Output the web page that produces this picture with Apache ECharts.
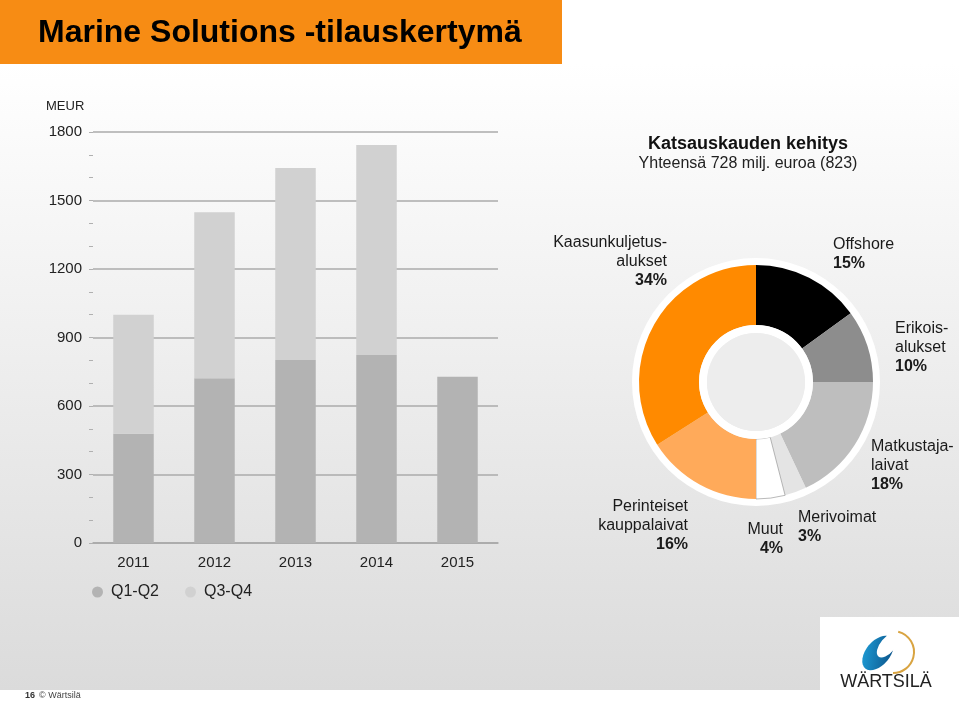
<!DOCTYPE html>
<html>
<head>
<meta charset="utf-8">
<script src="https://cdn.jsdelivr.net/npm/echarts@6/dist/echarts.min.js"></script>
<style>
html,body{margin:0;padding:0;background:#fff;}
#c{width:959px;height:701px;}
</style>
</head>
<body>
<div id="c"></div>
<script>
// ---- data ----
const years = ['2011', '2012', '2013', '2014', '2015'];
const q1q2 = [478, 722, 802, 823, 728];
const q3q4 = [522, 727, 840, 920, null];
const seriesNames = ['Q1-Q2', 'Q3-Q4'];
const yMin = 0, yMax = 1800, yStep = 300;

const segNames = ['Offshore', 'Erikois-\nalukset', 'Matkustaja-\nlaivat', 'Merivoimat', 'Muut', 'Perinteiset\nkauppalaivat', 'Kaasunkuljetus-\nalukset'];
const segShares = [15, 10, 18, 3, 4, 16, 34];

const titleText = 'Marine Solutions -tilauskertymä';
const pieTitle = 'Katsauskauden kehitys';
const pieSubtitle = 'Yhteensä 728 milj. euroa (823)';
const unitText = 'MEUR';

// ---- styles ----
const FONT = '"Liberation Sans", Arial, Helvetica, sans-serif';
const segColors = ['#000000', '#8D8D8D', '#BEBEBE', '#E4E4E4', '#FFFFFF', '#FFAA5A', '#FF8A00'];
const PIE_C = [756, 382];
// label anchors: [x, top, align]
const labelPos = [
  [833, 235, 'left'],
  [895, 319, 'left'],
  [871, 437, 'left'],
  [798, 508, 'left'],
  [783, 520, 'right'],
  [688, 497, 'right'],
  [667, 233, 'right']
];

const chart = echarts.init(document.getElementById('c'), null, {renderer: 'canvas'});

const labelGraphics = segNames.map((n, i) => {
  const lines = n.split('\n').map(s => '{n|' + s + '}').join('\n');
  return {
    type: 'text', x: labelPos[i][0], y: labelPos[i][1], z: 10,
    style: {
      text: lines + '\n{p|' + segShares[i] + '%}',
      align: labelPos[i][2], verticalAlign: 'top',
      rich: {
        n: {fontFamily: FONT, fontSize: 16, lineHeight: 19, fill: '#1a1a1a', align: labelPos[i][2]},
        p: {fontFamily: FONT, fontSize: 16, lineHeight: 19, fontWeight: 'bold', fill: '#1a1a1a', align: labelPos[i][2]}
      }
    }
  };
});

const option = {
  animation: false,
  textStyle: {fontFamily: FONT},
  graphic: [
    {type: 'rect', z: -10, shape: {x: 0, y: 64, width: 959, height: 626},
     style: {fill: new echarts.graphic.LinearGradient(0, 0, 0, 1, [
       {offset: 0, color: '#FFFFFF'}, {offset: 1, color: '#DBDBDB'}])}},
    {type: 'rect', z: -9, shape: {x: 0, y: 0, width: 562, height: 64}, style: {fill: '#F78C14'}},
    {type: 'text', x: 38, y: 33, z: 10, style: {text: titleText, font: 'bold 32px ' + FONT, fill: '#000', verticalAlign: 'middle'}},
    {type: 'text', x: 46, y: 106, z: 10, style: {text: unitText, font: '13px ' + FONT, fill: '#222', verticalAlign: 'middle'}},
    {type: 'text', x: 748, y: 144, z: 10, style: {text: pieTitle, font: 'bold 18px ' + FONT, fill: '#111', align: 'center', verticalAlign: 'middle'}},
    {type: 'text', x: 748, y: 164, z: 10, style: {text: pieSubtitle, font: '16px ' + FONT, fill: '#222', align: 'center', verticalAlign: 'middle'}},
    // footer
    {type: 'text', x: 25, y: 696, z: 10, style: {text: '16', font: 'bold 9px ' + FONT, fill: '#333', verticalAlign: 'middle'}},
    {type: 'text', x: 39, y: 696, z: 10, style: {text: '© Wärtsilä', font: '9px ' + FONT, fill: '#444', verticalAlign: 'middle'}},
    // logo box
    {type: 'rect', z: -8, shape: {x: 820, y: 617, width: 139, height: 84}, style: {fill: '#FFFFFF'}},
    {type: 'circle', z: 5, x: 878, y: 653, scaleX: 20, scaleY: 12, rotation: Math.PI * 0.28, shape: {cx: 0, cy: 0, r: 1},
     style: {fill: new echarts.graphic.LinearGradient(0, 0, 1, 1, [{offset: 0, color: '#1FA3DD'}, {offset: 1, color: '#0A4A80'}])}},
    {type: 'circle', z: 6, x: 888, y: 645, scaleX: 15, scaleY: 7.5, rotation: Math.PI * 0.28, shape: {cx: 0, cy: 0, r: 1},
     style: {fill: '#FFFFFF'}},
    {type: 'arc', z: 7, x: 893, y: 652, shape: {cx: 0, cy: 0, r: 21, startAngle: -Math.PI * 0.42, endAngle: Math.PI * 0.5},
     style: {stroke: '#D9A441', lineWidth: 2, fill: null}},
    {type: 'text', x: 886, y: 682, z: 10, style: {text: 'WÄRTSILÄ', font: '18px ' + FONT, fill: '#222', align: 'center', verticalAlign: 'middle'}}
  ].concat(labelGraphics),
  grid: {left: 93, top: 132, width: 405, height: 411, containLabel: false},
  legend: {
    data: seriesNames, left: 87, top: 579, icon: 'circle', itemWidth: 11, itemHeight: 11, itemGap: 26,
    textStyle: {fontFamily: FONT, fontSize: 16, color: '#222', padding: [0, 0, 0, 3]}, selectedMode: false
  },
  xAxis: {
    type: 'category', data: years,
    axisLine: {lineStyle: {color: '#A8A8A8', width: 1.5}},
    axisTick: {show: false},
    axisLabel: {fontFamily: FONT, fontSize: 15, color: '#222', margin: 12}
  },
  yAxis: {
    type: 'value', min: yMin, max: yMax, interval: yStep,
    axisLine: {show: false},
    axisTick: {show: true, length: 4, lineStyle: {color: '#B0B0B0'}},
    minorTick: {show: true, splitNumber: 3, length: 4, lineStyle: {color: '#B0B0B0'}},
    splitLine: {lineStyle: {color: '#ABABAB', width: 1.5}},
    axisLabel: {fontFamily: FONT, fontSize: 15, color: '#222', margin: 11, formatter: v => String(v)}
  },
  series: [
    {name: seriesNames[0], type: 'bar', stack: 'a', data: q1q2, barWidth: '50%', itemStyle: {color: '#B3B3B3'}, silent: true},
    {name: seriesNames[1], type: 'bar', stack: 'a', data: q3q4, barWidth: '50%', itemStyle: {color: '#D1D1D1'}, silent: true},
    {type: 'pie', center: PIE_C, radius: [116, 124], silent: true, label: {show: false}, labelLine: {show: false},
     data: [{value: 1, name: 'ring', itemStyle: {color: '#FFFFFF'}}]},
    {type: 'pie', center: PIE_C, radius: [57, 117], startAngle: 90, clockwise: true, silent: true,
     label: {show: false}, labelLine: {show: false},
     data: segNames.map((n, i) => ({
       value: segShares[i], name: n,
       itemStyle: i === 4 ? {color: segColors[i], borderColor: '#8a8a8a', borderWidth: 0.6} : {color: segColors[i]}
     }))},
    {type: 'pie', center: PIE_C, radius: [49, 57], silent: true, label: {show: false}, labelLine: {show: false},
     data: [{value: 1, name: 'inner', itemStyle: {color: '#FFFFFF'}}]},
    {type: 'pie', center: PIE_C, radius: [0, 49], silent: true, label: {show: false}, labelLine: {show: false},
     data: [{value: 1, name: 'hole', itemStyle: {color: '#EDEDED'}}]}
  ]
};
chart.setOption(option);
</script>
</body>
</html>
